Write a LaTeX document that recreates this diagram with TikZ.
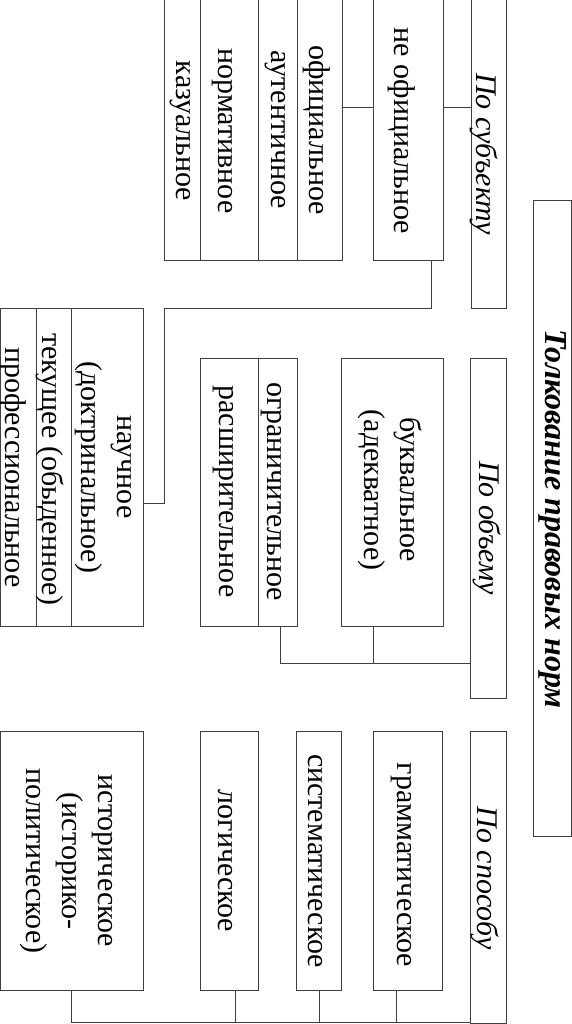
\documentclass[tikz,border=0pt]{standalone}
\usepackage{fontspec}
\setmainfont{Liberation Serif}
\definecolor{linec}{HTML}{404040}
\begin{document}
\begin{tikzpicture}[x=1pt,y=-1pt,
  bx/.style={draw=linec, line width=1pt, fill=white, inner sep=0pt},
  conn/.style={draw=linec, line width=1pt},
  txt/.style={rotate=-90, inner sep=0pt, font=\fontsize{30}{36}\selectfont, align=center, text=black},
  itxt/.style={txt, font=\fontsize{30}{36}\selectfont\itshape},
  ttl/.style={txt, font=\fontsize{32}{36}\selectfont\bfseries\itshape}]
\useasboundingbox (0,0) rectangle (572,1024);
\fill[white] (0,0) rectangle (572,1024);

% ---- boxes ----
\node[bx, minimum width=178pt, minimum height=262pt] (grp) at (253,129) {};
\draw[conn] (200,-2) -- (200,260) (258,-2) -- (258,260) (297,-2) -- (297,260);
\node[bx, minimum width=70pt, minimum height=262pt] (neoff) at (408,129) {};
\node[bx, minimum width=35pt, minimum height=310.5pt] (subj) at (488.5,153.25) {};

\node[bx, minimum width=142.2pt, minimum height=317.5pt] (sci) at (71.9,467.25) {};
\draw[conn] (36,308.5) -- (36,626) (71.3,308.5) -- (71.3,626);
\node[bx, minimum width=97pt, minimum height=268pt] (orgr) at (248.5,492) {};
\draw[conn] (258,358) -- (258,626);
\node[bx, minimum width=102pt, minimum height=268pt] (bukv) at (392,492) {};
\node[bx, minimum width=35.5pt, minimum height=340.5pt] (obj) at (488.25,528.25) {};

\node[bx, minimum width=37.5pt, minimum height=635.5pt] (title) at (552.25,518.25) {};

\node[bx, minimum width=142.2pt, minimum height=259pt] (hist) at (71.9,860.5) {};
\node[bx, minimum width=58pt, minimum height=259pt] (logic) at (229,860.5) {};
\node[bx, minimum width=44.3pt, minimum height=259pt] (sys) at (318.85,860.5) {};
\node[bx, minimum width=69pt, minimum height=259pt] (gram) at (408.2,860.5) {};
\node[bx, minimum width=35.5pt, minimum height=292pt] (spos) at (488.25,877) {};

% ---- texts ----
\node[txt] (t1) at (317,130) {официальное};
\node[txt] (t2) at (275,130) {аутентичное};
\node[txt] (t3) at (222,131) {нормативное};
\node[txt] (t4) at (180,131) {казуальное};
\node[txt] (t5) at (402,131) {не официальное};
\node[itxt] (t6) at (484,154) {По субъекту};

\node[txt] (t7) at (103.5,467) {научное\\(доктринальное)};
\node[txt] (t8) at (50,469.5) {текущее (обыденное)};
\node[txt] (t9) at (13,467.5) {профессиональное};
\node[txt] (t10) at (271,491.5) {ограничительное};
\node[txt] (t11) at (223,491.5) {расширительное};
\node[txt] (t12) at (390,490) {буквальное\\(адекватное)};
\node[itxt] (t13) at (487,528) {По объему};

\node[ttl] (t14) at (552.5,519) {Толкование правовых норм};

\node[txt] (t15) at (66.5,861) {историческое\\(историко-\\политическое)};
\node[txt] (t16) at (225,861) {логическое};
\node[txt] (t17) at (315.5,861) {систематическое};
\node[txt] (t18) at (401,865) {грамматическое};
\node[itxt] (t19) at (485,878) {По способу};

% ---- connectors ----
\coordinate (ya) at (0,107.7);
\draw[conn] (grp.east |- ya) -- (neoff.west |- ya);
\draw[conn] (neoff.east |- ya) -- (subj.west |- ya);

\coordinate (c1) at (431.7,308.3);
\coordinate (c2) at (164.3,308.3);
\coordinate (c3) at (164.3,503.3);
\draw[conn] (neoff.south -| c1) -- (c1) -- (c2) -- (c3) -- (sci.east |- c3);

\coordinate (yb) at (0,663.3);
\coordinate (d1) at (280,0);
\coordinate (d2) at (373.3,0);
\draw[conn] (orgr.south -| d1) -- (d1 |- yb) -- (obj.west |- yb);
\draw[conn] (bukv.south -| d2) -- (d2 |- yb);

\coordinate (yc) at (0,1022.7);
\coordinate (e1) at (71.3,0);
\coordinate (e2) at (235,0);
\coordinate (e3) at (319,0);
\coordinate (e4) at (396.3,0);
\draw[conn] (hist.south -| e1) -- (e1 |- yc) -- (spos.west |- yc);
\draw[conn] (logic.south -| e2) -- (e2 |- yc);
\draw[conn] (sys.south -| e3) -- (e3 |- yc);
\draw[conn] (gram.south -| e4) -- (e4 |- yc);
\end{tikzpicture}
\end{document}
